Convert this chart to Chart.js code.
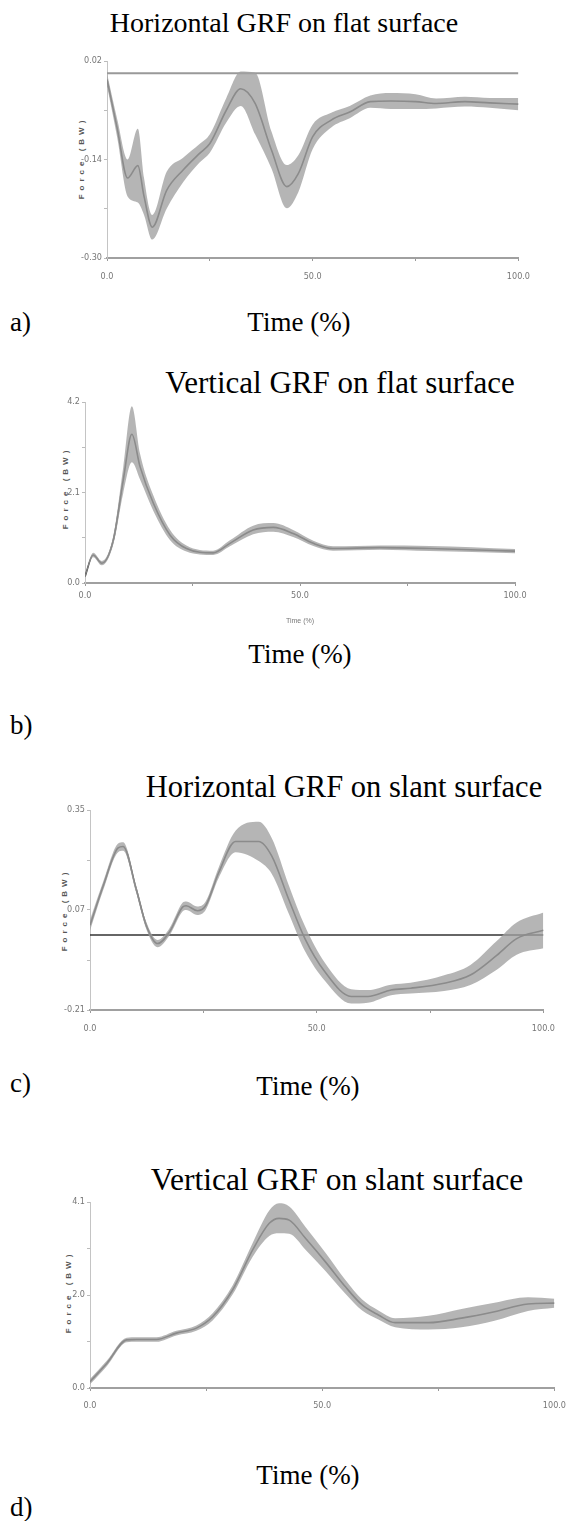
<!DOCTYPE html>
<html>
<head>
<meta charset="utf-8">
<script src="https://cdn.jsdelivr.net/npm/chart.js@4"></script>
<style>
  html, body { margin: 0; padding: 0; background: #fff; overflow: hidden; }
  body { position: relative; width: 569px; height: 1521px; }
  canvas { position: absolute; }
  .txt { position: absolute; font-family: "Liberation Serif", "Times New Roman", serif; color: #000; line-height: 1; white-space: nowrap; }
  .ttl { width: 500px; text-align: center; }
  .lbl { font-size: 27px; }
  .ctr { width: 200px; text-align: center; }
  .ytl { position: absolute; font: bold 8px "Liberation Sans", Arial, sans-serif; letter-spacing: 4px; color: #555;
         white-space: nowrap; transform: translate(-50%, -50%) rotate(-90deg); }
</style>
</head>
<body>
<div class="txt ttl" style="left:34px;top:9px;font-size:28px">Horizontal GRF on flat surface</div>
<div class="txt lbl" style="left:10px;top:309px">a)</div>
<div class="txt lbl ctr" style="left:199px;top:309px">Time (%)</div>
<div class="ytl" style="left:81px;top:158px">Force (BW)</div>

<div class="txt ttl" style="left:90px;top:367px;font-size:31px">Vertical GRF on flat surface</div>
<div class="txt lbl ctr" style="left:200px;top:641px">Time (%)</div>
<div class="txt lbl" style="left:10px;top:712px">b)</div>
<div class="ytl" style="left:65px;top:488px">Force (BW)</div>

<div class="txt ttl" style="left:94px;top:772px;font-size:30.5px">Horizontal GRF on slant surface</div>
<div class="txt lbl" style="left:10px;top:1070px">c)</div>
<div class="txt lbl ctr" style="left:208px;top:1073px">Time (%)</div>
<div class="ytl" style="left:64px;top:910px">Force (BW)</div>

<div class="txt ttl" style="left:87px;top:1164px;font-size:31.5px">Vertical GRF on slant surface</div>
<div class="txt lbl ctr" style="left:208px;top:1462px">Time (%)</div>
<div class="txt lbl" style="left:10px;top:1494px">d)</div>
<div class="ytl" style="left:68px;top:1292px">Force (BW)</div>

<canvas id="chartA" width="500" height="250" style="left:40px;top:50px"></canvas>
<canvas id="chartB" width="520" height="235" style="left:20px;top:390px"></canvas>
<canvas id="chartC" width="545" height="252" style="left:20px;top:798px"></canvas>
<canvas id="chartD" width="555" height="235" style="left:20px;top:1190px"></canvas>

<script>
// 시간축 (% stance)
const xTicks = [0, 25, 50, 75, 100];
const xLabels = ['0.0', '', '50.0', '', '100.0'];

// a) horizontal GRF, flat
const timeA = [0, 2.5, 5, 7.5, 9, 11, 14.5, 18.5, 22.5, 25, 29, 32.5, 36, 40, 43.7, 46.5, 50, 54.5, 59, 64, 69, 75, 80, 87, 93, 100];
const meanA = [-0.01, -0.09, -0.17, -0.15, -0.20, -0.25, -0.19, -0.157, -0.13, -0.114, -0.06, -0.025, -0.049, -0.125, -0.184, -0.163, -0.103, -0.076, -0.063, -0.046, -0.045, -0.046, -0.049, -0.046, -0.048, -0.050];
const sdA   = [0.01, 0.015, 0.03, 0.06, 0.03, 0.02, 0.03, 0.02, 0.015, 0.015, 0.02, 0.028, 0.05, 0.03, 0.035, 0.03, 0.02, 0.012, 0.01, 0.01, 0.013, 0.012, 0.008, 0.008, 0.008, 0.01];
const yTicksA = [-0.30, -0.22, -0.14, -0.06, 0.02];
const yLabelsA = ['-0.30', '', '-0.14', '', '0.02'];

// b) vertical GRF, flat
const timeB = [0, 1.9, 3.9, 6.6, 8.9, 10.9, 12.8, 15.9, 19.8, 23.6, 29.8, 33.7, 39.1, 43.8, 48.4, 53.1, 57.7, 68.6, 80.2, 100];
const meanB = [0.15, 0.65, 0.46, 1.0, 2.39, 3.45, 2.70, 1.85, 1.11, 0.80, 0.70, 0.92, 1.23, 1.29, 1.15, 0.92, 0.80, 0.82, 0.80, 0.74];
const sdB   = [0.03, 0.05, 0.05, 0.1, 0.3, 0.65, 0.3, 0.18, 0.12, 0.07, 0.05, 0.07, 0.1, 0.1, 0.08, 0.06, 0.05, 0.05, 0.06, 0.05];
const yTicksB = [0.0, 1.05, 2.1, 3.15, 4.2];
const yLabelsB = ['0.0', '', '2.1', '', '4.2'];

// c) horizontal GRF, slant
const timeC = [0, 2.9, 6.2, 7.3, 10.2, 12.4, 14.9, 17.5, 20.4, 21.2, 23.7, 25.5, 28.4, 32.1, 37.2, 40.1, 43.8, 47.4, 51.8, 57.6, 61.3, 66.4, 70.7, 78.1, 83.9, 89.7, 94.1, 100];
const meanC = [0.027, 0.137, 0.244, 0.248, 0.128, 0.027, -0.024, 0.008, 0.078, 0.082, 0.068, 0.082, 0.175, 0.262, 0.262, 0.221, 0.101, -0.010, -0.103, -0.172, -0.172, -0.154, -0.149, -0.135, -0.112, -0.057, -0.010, 0.013];
const sdC   = [0.015, 0.012, 0.012, 0.012, 0.01, 0.01, 0.01, 0.01, 0.012, 0.012, 0.012, 0.012, 0.015, 0.03, 0.055, 0.05, 0.04, 0.035, 0.025, 0.02, 0.018, 0.015, 0.015, 0.022, 0.028, 0.04, 0.045, 0.05];
const yTicksC = [-0.21, -0.07, 0.07, 0.21, 0.35];
const yLabelsC = ['-0.21', '', '0.07', '', '0.35'];

// d) vertical GRF, slant
const timeD = [0, 3.6, 7.9, 10, 14.3, 18.6, 22.9, 26.4, 30.7, 35, 38.6, 40.7, 42.9, 46.4, 50.7, 55, 58.6, 62.1, 65.7, 72.9, 80, 87.1, 94.3, 100];
const meanD = [0.14, 0.54, 1.06, 1.07, 1.07, 1.21, 1.32, 1.57, 2.16, 3.04, 3.63, 3.74, 3.70, 3.30, 2.78, 2.23, 1.83, 1.61, 1.44, 1.44, 1.54, 1.68, 1.85, 1.87];
const sdD   = [0.06, 0.06, 0.05, 0.05, 0.05, 0.05, 0.06, 0.08, 0.1, 0.15, 0.28, 0.33, 0.3, 0.25, 0.2, 0.15, 0.12, 0.1, 0.1, 0.15, 0.2, 0.2, 0.15, 0.1];
const yTicksD = [0.0, 1.025, 2.05, 3.075, 4.1];
const yLabelsD = ['0.0', '', '2.0', '', '4.1'];

function pts(xs, ys) {
    return xs.map((x, i) => ({ x: x, y: ys[i] }));
}

const tickFont = { family: 'Liberation Sans Narrow, DejaVu Sans Condensed, Liberation Sans', size: 9 };

function makeChart(id, o) {
    const upper = o.mean.map((m, i) => m + o.sd[i]);
    const lower = o.mean.map((m, i) => m - o.sd[i]);
    const datasets = [
        { data: pts(o.time, upper), borderWidth: 0, pointRadius: 0, fill: false, cubicInterpolationMode: 'monotone' },
        { data: pts(o.time, lower), borderWidth: 0, pointRadius: 0, fill: '-1', backgroundColor: 'rgba(160,160,160,0.78)', cubicInterpolationMode: 'monotone' },
        { data: pts(o.time, o.mean), borderColor: '#404040', borderWidth: 1.6, pointRadius: 0, fill: false, cubicInterpolationMode: 'monotone' }
    ];
    if (o.zero) {
        datasets.push({ data: pts([0, 100], [0, 0]), borderColor: o.zero.color, borderWidth: o.zero.width, pointRadius: 0, fill: false });
    }
    return new Chart(document.getElementById(id), {
        type: 'line',
        data: { datasets: datasets },
        options: {
            responsive: false,
            animation: false,
            layout: { padding: { top: o.padTop, right: o.padRight, bottom: 0, left: 0 } },
            plugins: { legend: { display: false }, tooltip: { enabled: false } },
            scales: {
                x: {
                    type: 'linear', min: 0, max: 100,
                    afterBuildTicks: (s) => { s.ticks = xTicks.map(v => ({ value: v })); },
                    afterFit: (s) => { s.height = o.xH; },
                    ticks: { autoSkip: false, maxRotation: 0, padding: o.xPad, font: tickFont, color: '#777',
                             callback: (v, i) => xLabels[i] },
                    grid: { drawOnChartArea: false, tickLength: 3, color: '#999' },
                    border: { color: '#a0a0a0', width: 2 },
                    title: { display: !!o.xTitle, text: o.xTitle || '', font: { size: 7, family: 'Liberation Sans' }, color: '#777', padding: 0 }
                },
                y: {
                    type: 'linear', min: o.yTicks[0], max: o.yTicks[o.yTicks.length - 1],
                    afterBuildTicks: (s) => { s.ticks = o.yTicks.map(v => ({ value: v })); },
                    afterFit: (s) => { s.width = o.yW; },
                    ticks: { autoSkip: false, padding: 2, font: tickFont, color: '#777',
                             callback: (v, i) => o.yLabels[i] },
                    grid: { drawOnChartArea: false, tickLength: 3, color: '#bbb' },
                    border: { color: '#c4c4c4', width: 1 }
                }
            }
        }
    });
}

makeChart('chartA', { time: timeA, mean: meanA, sd: sdA, yTicks: yTicksA, yLabels: yLabelsA,
    yW: 67, padTop: 11, padRight: 18, xH: 42, xPad: 10, zero: { color: '#999', width: 2 } });
makeChart('chartB', { time: timeB, mean: meanB, sd: sdB, yTicks: yTicksB, yLabels: yLabelsB,
    yW: 65, padTop: 12, padRight: 25, xH: 42, xPad: 4, xTitle: 'Time (%)' });
makeChart('chartC', { time: timeC, mean: meanC, sd: sdC, yTicks: yTicksC, yLabels: yLabelsC,
    yW: 70, padTop: 12, padRight: 18, xH: 40, xPad: 10, zero: { color: '#333', width: 1.5 } });
makeChart('chartD', { time: timeD, mean: meanD, sd: sdD, yTicks: yTicksD, yLabels: yLabelsD,
    yW: 70, padTop: 12, padRight: 18, xH: 37, xPad: 9 });
</script>
</body>
</html>
